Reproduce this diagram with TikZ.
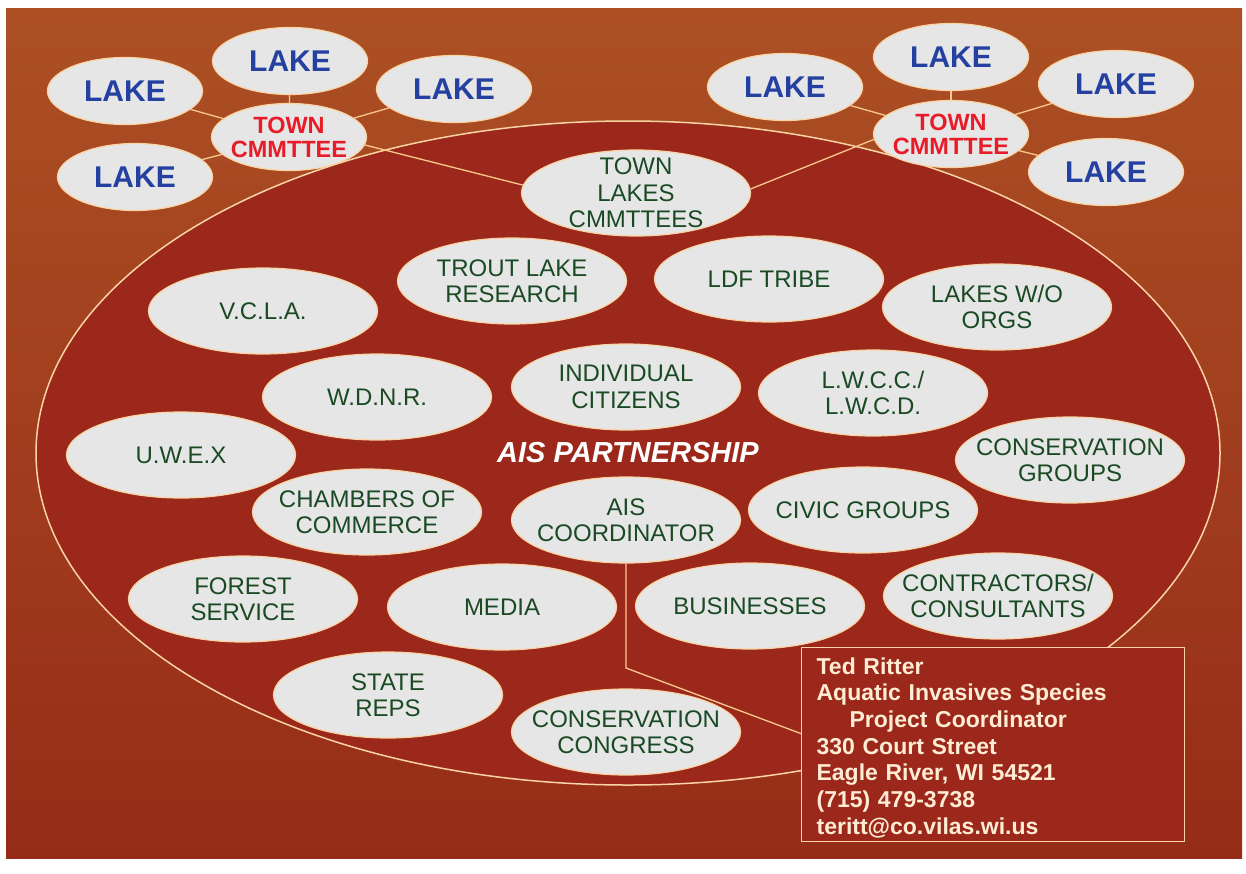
\documentclass[tikz,border=0pt]{standalone}
\usepackage{fontspec}
\setmainfont{Liberation Sans}
\usetikzlibrary{shapes.geometric,calc}
\definecolor{bgtop}{RGB}{172,80,36}
\definecolor{bgmid}{RGB}{194,90,38}
\definecolor{bgbot}{RGB}{150,44,24}
\definecolor{partfill}{RGB}{155,40,27}
\definecolor{cream}{RGB}{250,212,165}
\definecolor{linecol}{RGB}{250,200,140}
\definecolor{ovalfill}{RGB}{230,230,230}
\definecolor{lakeblue}{RGB}{36,64,160}
\definecolor{townred}{RGB}{232,28,40}
\definecolor{orggreen}{RGB}{26,74,36}
\definecolor{infotext}{RGB}{255,236,212}
\pgfdeclarelayer{bg}
\pgfdeclarelayer{lines}
\pgfsetlayers{bg,lines,main}
\tikzset{
  oval/.style={ellipse, draw=cream, line width=1.2pt, fill=ovalfill, inner xsep=-25pt, inner ysep=-18pt, align=center},
  lake/.style={oval, minimum width=155pt, minimum height=67pt, text=lakeblue,
    font=\fontsize{30}{32}\selectfont\bfseries},
  town/.style={oval, minimum width=155pt, minimum height=67pt, text=townred,
    font=\fontsize{23.5}{24}\selectfont\bfseries},
  org/.style={oval, minimum width=229pt, minimum height=86pt, text=orggreen,
    font=\fontsize{24}{26.5}\selectfont},
  bigoval/.style={ellipse, draw=cream, line width=1.5pt, fill=partfill, inner sep=0pt,
    minimum width=1184pt, minimum height=664pt, text=white,
    font=\fontsize{29}{32}\selectfont\bfseries\itshape},
  conn/.style={draw=linecol, line width=1.3pt},
  infobox/.style={draw=cream, line width=1.2pt, fill=partfill, align=left, text=infotext,
    minimum width=383pt, minimum height=194pt, text width=353pt, inner xsep=15pt, inner ysep=0pt,
    font=\fontsize{23}{26.7}\selectfont\bfseries}
}
\begin{document}
\begin{tikzpicture}[x=1pt,y=-1pt]
\useasboundingbox (0,0) rectangle (1246,873);
\begin{pgfonlayer}{bg}
\fill[white] (0,0) rectangle (1246,873);
\shade[top color=bgtop, middle color=bgmid, bottom color=bgbot] (6,8) rectangle (1242,858);
\node[bigoval] (part) at (628,453) {AIS PARTNERSHIP};
\end{pgfonlayer}

% top-left cluster
\node[lake] (l1) at (125,91) {LAKE};
\node[lake] (l2) at (290,61) {LAKE};
\node[lake] (l3) at (454,89) {LAKE};
\node[lake] (l4) at (135,177) {LAKE};
\node[town] (t1) at (289,137) {TOWN\\CMMTTEE};
% top-right cluster
\node[lake] (l5) at (785,87) {LAKE};
\node[lake] (l6) at (951,57) {LAKE};
\node[lake] (l7) at (1116,84) {LAKE};
\node[lake] (l8) at (1106,172) {LAKE};
\node[town] (t2) at (951,134) {TOWN\\CMMTTEE};

% partnership members
\node[org] (tl) at (636,193) {TOWN\\LAKES\\CMMTTEES};
\node[org] (trout) at (512,281) {TROUT LAKE\\RESEARCH};
\node[org] (ldf) at (769,279) {LDF TRIBE};
\node[org] (vcla) at (263,311) {V.C.L.A.};
\node[org] (lwo) at (997,307) {LAKES W/O\\ORGS};
\node[org] (wdnr) at (377,397) {W.D.N.R.};
\node[org] (indiv) at (626,387) {INDIVIDUAL\\CITIZENS};
\node[org] (lwcc) at (873,393) {L.W.C.C./\\L.W.C.D.};
\node[org] (uwex) at (181,455) {U.W.E.X};
\node[org] (consg) at (1070,460) {CONSERVATION\\GROUPS};
\node[org] (cham) at (367,512) {CHAMBERS OF\\COMMERCE};
\node[org] (aisc) at (626,520) {AIS\\COORDINATOR};
\node[org] (civic) at (863,510) {CIVIC GROUPS};
\node[org] (forest) at (243,599) {FOREST\\SERVICE};
\node[org] (media) at (502,607) {MEDIA};
\node[org] (bus) at (750,606) {BUSINESSES};
\node[org] (contr) at (998,596) {CONTRACTORS/\\CONSULTANTS};
\node[org] (state) at (388,695) {STATE\\REPS};
\node[org] (consc) at (626,732) {CONSERVATION\\CONGRESS};

% contact box
\node[infobox, anchor=north west] (box) at (801,647) {\rule{0pt}{23pt}Ted Ritter\\
Aquatic Invasives Species\\
\hspace*{33pt}Project Coordinator\\
330 Court Street\\
Eagle River, WI 54521\\
(715) 479-3738\\
teritt@co.vilas.wi.us};

\coordinate (bend) at (626,668);

\begin{pgfonlayer}{lines}
\draw[conn] (t1) -- (l1);
\draw[conn] (t1) -- (l2);
\draw[conn] (t1) -- (l3);
\draw[conn] (t1) -- (l4);
\draw[conn] (t1.-6) -- (tl.176);
\draw[conn] (t2) -- (l5);
\draw[conn] (t2) -- (l6);
\draw[conn] (t2) -- (l7);
\draw[conn] (t2) -- (l8);
\draw[conn] (t2.184) -- (tl.2);
\draw[conn] (aisc.south) -- (bend) -- ($(box.west)+(0,-11)$);
\end{pgfonlayer}
\end{tikzpicture}
\end{document}
